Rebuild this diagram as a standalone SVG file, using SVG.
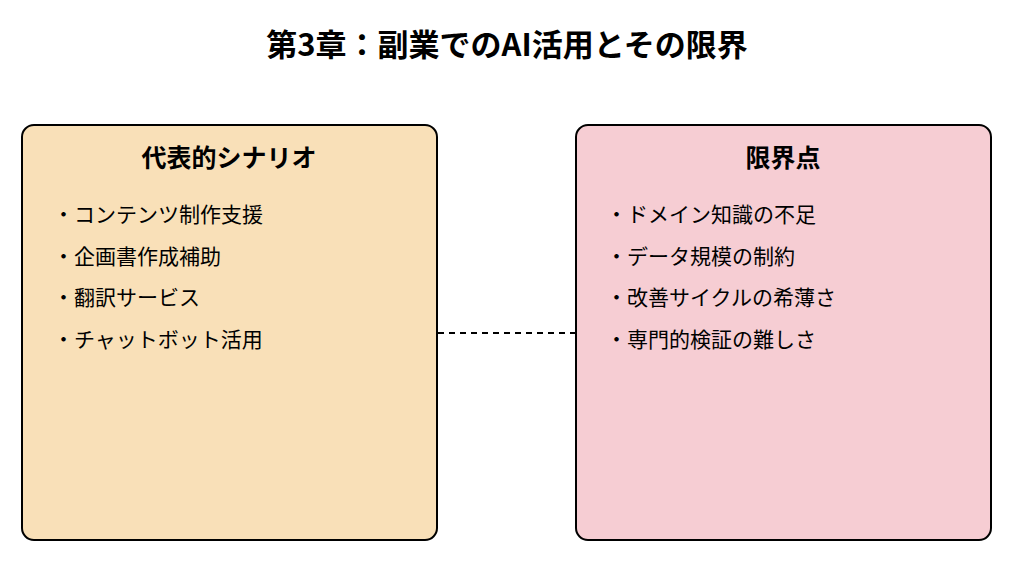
<svg xmlns="http://www.w3.org/2000/svg" width="1024" height="570" viewBox="0 0 1024 570">
<style>
text{font-family:"Noto Sans CJK JP","Noto Sans",sans-serif;fill:#000}
.t{font-size:31px;font-weight:bold;text-anchor:middle}
.h{font-size:25px;font-weight:bold;text-anchor:middle}
.i{font-size:21px}
.box{stroke:#000;stroke-width:2}
</style>
<rect width="1024" height="570" fill="#fff"/>
<text class="t" x="507" y="56">第3章：副業でのAI活用とその限界</text>
<g id="connectors"><line x1="438" y1="333" x2="576" y2="333" stroke="#000" stroke-width="2" stroke-dasharray="6,5"/></g>
<g id="scenarios">
<rect class="box" x="22" y="125" width="415" height="415" rx="12" fill="#f9e0b8"/>
<text class="h" x="229" y="167">代表的シナリオ</text>
<text class="i" x="53" y="222">・コンテンツ制作支援</text>
<text class="i" x="53" y="264">・企画書作成補助</text>
<text class="i" x="53" y="305">・翻訳サービス</text>
<text class="i" x="53" y="347">・チャットボット活用</text>
</g>
<g id="limits">
<rect class="box" x="576" y="125" width="415" height="415" rx="12" fill="#f6cdd3"/>
<text class="h" x="783" y="167">限界点</text>
<text class="i" x="606" y="222">・ドメイン知識の不足</text>
<text class="i" x="606" y="264">・データ規模の制約</text>
<text class="i" x="606" y="305">・改善サイクルの希薄さ</text>
<text class="i" x="606" y="347">・専門的検証の難しさ</text>
</g>
</svg>
